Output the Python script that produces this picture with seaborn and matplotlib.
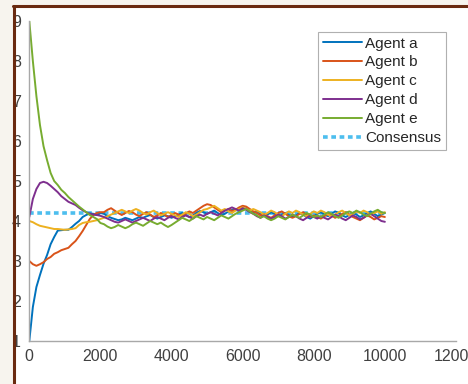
import numpy as np
import pandas as pd
import matplotlib
matplotlib.use("Agg")
import matplotlib.pyplot as plt
from matplotlib.lines import Line2D
from matplotlib.patches import Rectangle
import seaborn as sns

# ---------------- data ----------------
steps = list(range(0, 10001, 100))

agent_a = [1.0, 1.85, 2.35, 2.65, 2.93, 3.15, 3.42, 3.6, 3.76, 3.77,
           3.78, 3.78, 3.85, 3.93, 4.0, 4.1, 4.15, 4.19, 4.18, 4.15, 4.2,
           4.18, 4.12, 4.08, 4.05, 4.02, 4.04, 4.08, 4.05, 4.02, 4.06,
           4.1, 4.08, 4.12, 4.15, 4.1, 4.06, 4.1, 4.14, 4.12, 4.08,
           4.12, 4.16, 4.2, 4.15, 4.1, 4.14, 4.2, 4.25, 4.22, 4.18,
           4.22, 4.26, 4.2, 4.15, 4.18, 4.24, 4.28, 4.3, 4.25, 4.3,
           4.32, 4.26, 4.2, 4.24, 4.18, 4.12, 4.16, 4.22, 4.18, 4.12,
           4.16, 4.2, 4.15, 4.1, 4.14, 4.2, 4.16, 4.1, 4.06, 4.12,
           4.18, 4.22, 4.16, 4.12, 4.18, 4.24, 4.2, 4.14, 4.1, 4.15,
           4.2, 4.16, 4.1, 4.14, 4.2, 4.24, 4.18, 4.12, 4.16, 4.2]

agent_b = [3.0, 2.92, 2.88, 2.92, 2.97, 3.05, 3.1, 3.18, 3.22, 3.27,
           3.3, 3.33, 3.42, 3.5, 3.62, 3.75, 3.9, 4.05, 4.15, 4.2, 4.22,
           4.22, 4.28, 4.32, 4.26, 4.2, 4.15, 4.2, 4.25, 4.22, 4.16,
           4.12, 4.18, 4.22, 4.16, 4.1, 4.14, 4.2, 4.16, 4.1, 4.15,
           4.2, 4.16, 4.12, 4.18, 4.24, 4.2, 4.26, 4.32, 4.38, 4.42,
           4.4, 4.34, 4.28, 4.22, 4.26, 4.3, 4.25, 4.28, 4.34, 4.38,
           4.36, 4.3, 4.24, 4.2, 4.14, 4.18, 4.12, 4.08, 4.14, 4.2,
           4.24, 4.18, 4.12, 4.08, 4.12, 4.18, 4.22, 4.16, 4.1, 4.14,
           4.1, 4.06, 4.12, 4.18, 4.14, 4.08, 4.12, 4.18, 4.22, 4.16,
           4.1, 4.06, 4.02, 4.08, 4.14, 4.1, 4.04, 4.08, 4.12, 4.1]

agent_c = [4.0, 3.97, 3.92, 3.88, 3.86, 3.84, 3.82, 3.8, 3.8, 3.79,
           3.78, 3.79, 3.8, 3.82, 3.9, 3.95, 3.97, 3.98, 4.0, 4.02, 4.05,
           4.08, 4.12, 4.16, 4.2, 4.24, 4.28, 4.24, 4.2, 4.26, 4.3,
           4.26, 4.2, 4.16, 4.22, 4.26, 4.2, 4.14, 4.18, 4.22, 4.18,
           4.14, 4.1, 4.16, 4.22, 4.18, 4.12, 4.16, 4.22, 4.28, 4.3,
           4.34, 4.38, 4.32, 4.26, 4.3, 4.24, 4.2, 4.26, 4.3, 4.34,
           4.3, 4.26, 4.3, 4.26, 4.22, 4.16, 4.2, 4.26, 4.22, 4.16,
           4.12, 4.18, 4.24, 4.2, 4.26, 4.22, 4.16, 4.12, 4.18, 4.24,
           4.2, 4.26, 4.22, 4.16, 4.12, 4.16, 4.22, 4.26, 4.2, 4.14,
           4.18, 4.24, 4.2, 4.26, 4.22, 4.16, 4.2, 4.24, 4.18, 4.22]

agent_d = [4.1, 4.55, 4.8, 4.95, 4.98, 4.95, 4.88, 4.8, 4.72, 4.62,
           4.55, 4.48, 4.44, 4.4, 4.33, 4.27, 4.22, 4.18, 4.16, 4.15, 4.13,
           4.1, 4.06, 4.02, 3.98, 3.96, 4.0, 4.04, 4.0, 3.96, 4.0,
           4.04, 4.08, 4.04, 4.0, 4.06, 4.1, 4.06, 4.02, 4.08, 4.12,
           4.08, 4.04, 4.1, 4.14, 4.1, 4.06, 4.12, 4.16, 4.12, 4.18,
           4.22, 4.18, 4.14, 4.2, 4.26, 4.3, 4.34, 4.3, 4.26, 4.32,
           4.28, 4.22, 4.18, 4.12, 4.08, 4.14, 4.1, 4.06, 4.1, 4.16,
           4.12, 4.06, 4.1, 4.16, 4.12, 4.06, 4.02, 4.08, 4.14, 4.1,
           4.06, 4.12, 4.08, 4.04, 4.1, 4.16, 4.12, 4.06, 4.02, 4.08,
           4.14, 4.1, 4.04, 4.08, 4.14, 4.18, 4.12, 4.06, 4.0, 3.98]

agent_e = [9.0, 8.0, 7.12, 6.4, 5.87, 5.52, 5.2, 5.0, 4.9, 4.78,
           4.7, 4.6, 4.52, 4.44, 4.36, 4.29, 4.22, 4.15, 4.1, 4.05, 3.95,
           3.92, 3.86, 3.82, 3.85, 3.9, 3.86, 3.82, 3.86, 3.92, 3.96,
           3.92, 3.88, 3.94, 4.0, 3.96, 3.92, 3.96, 3.9, 3.85, 3.9,
           3.96, 4.02, 4.08, 4.04, 4.0, 4.06, 4.12, 4.08, 4.04, 4.1,
           4.06, 4.02, 4.08, 4.14, 4.1, 4.06, 4.12, 4.18, 4.22, 4.26,
           4.3, 4.24, 4.18, 4.14, 4.08, 4.12, 4.06, 4.02, 4.06, 4.12,
           4.08, 4.04, 4.1, 4.16, 4.12, 4.08, 4.14, 4.2, 4.16, 4.1,
           4.14, 4.1, 4.16, 4.22, 4.18, 4.12, 4.08, 4.14, 4.2, 4.24,
           4.2, 4.26, 4.22, 4.16, 4.12, 4.18, 4.24, 4.28, 4.22, 4.2]

consensus_steps = [0, 10000]
consensus_value = [4.2, 4.2]

agent_names = ["Agent a", "Agent b", "Agent c", "Agent d", "Agent e"]
agent_colors = ["#0072BD", "#D95319", "#EDB120", "#7E2F8E", "#77AC30"]
consensus_color = "#4DBEEE"

x_ticks = [0, 2000, 4000, 6000, 8000, 10000, 12000]
y_ticks = [1, 2, 3, 4, 5, 6, 7, 8, 9]

# ---------------- figure ----------------
sns.set_theme(style="white")
plt.rcParams["font.family"] = ["Liberation Sans", "DejaVu Sans"]

W, H = 468, 384
fig = plt.figure(figsize=(W / 100, H / 100), dpi=100)
fig.patch.set_facecolor("#f7f4ee")

# white page inside the frame
fig.add_artist(Rectangle((15 / W, 0), 1 - 15 / W, (H - 7) / H,
                         transform=fig.transFigure, facecolor="white",
                         edgecolor="none", zorder=-5))

ax = fig.add_axes([29.3 / W, (H - 341) / H, (456 - 29.3) / W, (341 - 21) / H])
ax.set_facecolor("none")

series = [agent_a, agent_b, agent_c, agent_d, agent_e]
rows = []
for name, vals in zip(agent_names, series):
    for t, v in zip(steps, vals):
        rows.append((t, v, name))
df = pd.DataFrame(rows, columns=["step", "value", "agent"])

ax.plot(consensus_steps, consensus_value, color=consensus_color,
        linestyle=(0, (1.3, 1.0)), linewidth=2.6, zorder=1, label="Consensus")

sns.lineplot(data=df, x="step", y="value", hue="agent",
             hue_order=agent_names, palette=agent_colors,
             linewidth=1.4, errorbar=None, ax=ax, zorder=2)

ax.set_xlim(0, 12000)
ax.set_ylim(1, 9)
ax.set_xticks(x_ticks)
ax.set_yticks(y_ticks)
ax.set_xticklabels([str(v) for v in x_ticks])
ax.set_yticklabels([str(v) for v in y_ticks])
ax.set_xlabel("")
ax.set_ylabel("")

for s in ["top", "right"]:
    ax.spines[s].set_visible(False)
for s in ["left", "bottom"]:
    ax.spines[s].set_color("#a8a8a8")
    ax.spines[s].set_linewidth(1.0)

ax.tick_params(axis="both", direction="in", length=3, width=0.8,
               color="#a8a8a8", labelcolor="#404040", labelsize=11.5)
ax.tick_params(axis="x", pad=6)
ax.tick_params(axis="y", pad=6)

handles, labels = ax.get_legend_handles_labels()
order = [labels.index(n) for n in agent_names] + [labels.index("Consensus")]
leg = ax.legend([handles[i] for i in order], [labels[i] for i in order],
                loc="upper right", bbox_to_anchor=(446 / W, 1 - 32 / H),
                bbox_transform=fig.transFigure, fontsize=11,
                frameon=True, fancybox=False, framealpha=1,
                edgecolor="#b0b0b0", borderpad=0.3, handlelength=2.6,
                handletextpad=0.2, labelspacing=0.32, borderaxespad=0)
leg.get_frame().set_linewidth(0.8)
for txt in leg.get_texts():
    txt.set_color("#262626")

# brown frame on top
fig.add_artist(Line2D([14 / W, 14 / W], [0, (H - 6) / H], transform=fig.transFigure,
                      color="#6a2a10", linewidth=2.2, zorder=20))
fig.add_artist(Line2D([13 / W, 1], [(H - 6) / H, (H - 6) / H], transform=fig.transFigure,
                      color="#6a2a10", linewidth=2.2, zorder=20))

fig.savefig("out.png", dpi=100, facecolor=fig.get_facecolor())
